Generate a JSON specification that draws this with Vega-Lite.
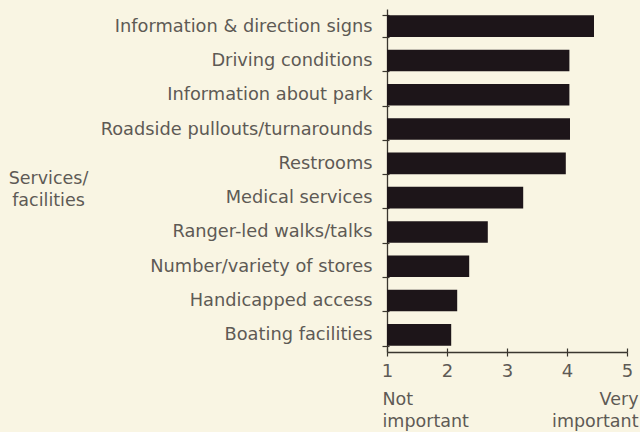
{
  "$schema": "https://vega.github.io/schema/vega-lite/v6.json",
  "width": 240,
  "height": 343,
  "autosize": "none",
  "padding": {"left": 387, "top": 9, "right": 13, "bottom": 80},
  "background": "#f9f5e3",
  "config": {
    "view": {"stroke": null},
    "font": "DejaVu Sans",
    "axis": {"labelFont": "DejaVu Sans", "titleFont": "DejaVu Sans", "grid": false}
  },
  "data": {
    "values": [
      {"item": "Information & direction signs", "score": 4.45},
      {"item": "Driving conditions", "score": 4.04},
      {"item": "Information about park", "score": 4.04},
      {"item": "Roadside pullouts/turnarounds", "score": 4.05},
      {"item": "Restrooms", "score": 3.98},
      {"item": "Medical services", "score": 3.27},
      {"item": "Ranger-led walks/talks", "score": 2.68},
      {"item": "Number/variety of stores", "score": 2.37},
      {"item": "Handicapped access", "score": 2.17},
      {"item": "Boating facilities", "score": 2.07}
    ]
  },
  "layer": [
    {
      "mark": {"type": "bar", "color": "#1d1519"},
      "encoding": {
        "y": {
          "field": "item", "type": "nominal", "sort": null,
          "scale": {"paddingInner": 0.37, "paddingOuter": 0.185},
          "axis": {
            "orient": "left",
            "title": ["Services/", "facilities"],
            "titleAngle": 0, "titleAlign": "center", "titleBaseline": "top",
            "titleX": -339, "titleY": 160, "titleLineHeight": 22,
            "titleFontSize": 17.5, "titleFontWeight": "normal", "titleColor": "#5e5a55",
            "labelFontSize": 17.8, "labelColor": "#5e5a55", "labelPadding": 10, "labelLimit": 400,
            "tickBand": "extent", "tickSize": 5, "tickColor": "#3a362f", "tickWidth": 1.2,
            "domainColor": "#3a362f", "domainWidth": 1.3
          }
        },
        "x": {
          "field": "score", "type": "quantitative",
          "scale": {"domain": [1, 5], "nice": false, "zero": false},
          "axis": {
            "orient": "bottom", "title": null, "values": [1, 2, 3, 4, 5],
            "labelFontSize": 18, "labelColor": "#5e5a55", "labelPadding": 6, "labelFlush": false,
            "tickSize": 4, "tickColor": "#3a362f", "tickWidth": 1.2,
            "domainColor": "#3a362f", "domainWidth": 1.3
          }
        },
        "x2": {"datum": 1}
      }
    },
    {
      "mark": {"type": "bar", "opacity": 0},
      "encoding": {
        "y": {
          "field": "item", "type": "nominal", "sort": null,
          "axis": {
            "orient": "left", "title": null, "labels": false, "domain": false, "offset": -2,
            "tickBand": "extent", "tickSize": 2, "tickColor": "#3a362f", "tickWidth": 1.2
          }
        },
        "x": {
          "field": "score", "type": "quantitative",
          "scale": {"domain": [1, 5], "nice": false, "zero": false},
          "axis": {
            "orient": "bottom", "title": null, "values": [1, 2, 3, 4, 5],
            "labels": false, "domain": false, "offset": -4,
            "tickSize": 4, "tickColor": "#3a362f", "tickWidth": 1.2
          }
        },
        "x2": {"datum": 1}
      }
    },
    {
      "mark": {"type": "bar", "opacity": 0},
      "encoding": {
        "y": {"field": "item", "type": "nominal", "sort": null, "axis": null},
        "x": {
          "field": "score", "type": "quantitative",
          "scale": {"domain": [1, 5], "nice": false, "zero": false},
          "axis": {
            "orient": "bottom", "title": null, "values": [1, 5],
            "domain": false, "ticks": false,
            "labelExpr": "datum.value == 1 ? ['Not', 'important'] : ['Very', 'important']",
            "labelAlign": {"expr": "datum.value == 1 ? 'left' : 'right'"},
            "labelOffset": {"expr": "datum.value == 1 ? -5 : 11"},
            "labelBaseline": "top", "labelLineHeight": 22, "labelPadding": 38,
            "labelFontSize": 17.5, "labelColor": "#5e5a55", "labelFlush": false, "labelOverlap": false
          }
        },
        "x2": {"datum": 1}
      }
    }
  ],
  "resolve": {"axis": {"x": "independent", "y": "independent"}}
}
